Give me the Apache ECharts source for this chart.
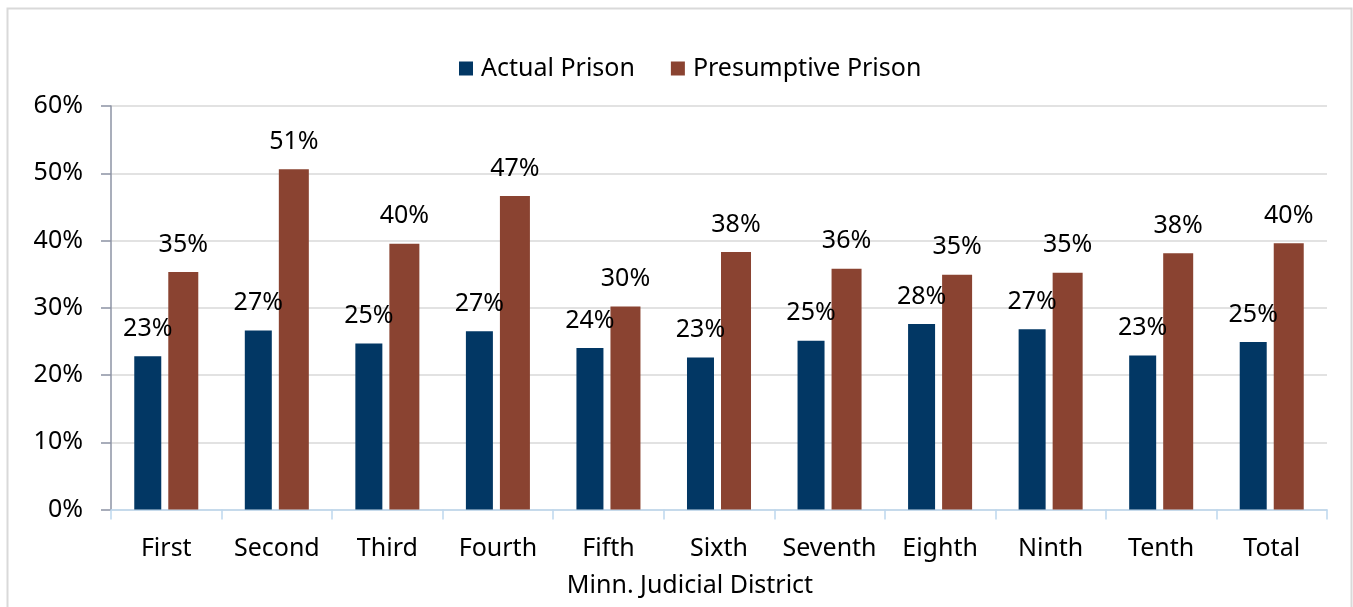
<!DOCTYPE html>
<html>
<head>
<meta charset="utf-8">
<script src="https://cdn.jsdelivr.net/npm/echarts@6/dist/echarts.min.js"></script>
<style>
html,body{margin:0;padding:0;background:#fff;}
#chart{width:1353px;height:607px;}
</style>
</head>
<body>
<div id="chart"></div>
<script>
var categories = ['First','Second','Third','Fourth','Fifth','Sixth','Seventh','Eighth','Ninth','Tenth','Total'];
var actualPrison = [22.8, 26.6, 24.7, 26.5, 24.0, 22.6, 25.1, 27.6, 26.8, 22.9, 24.9];
var presumptivePrison = [35.3, 50.6, 39.5, 46.6, 30.2, 38.3, 35.8, 34.9, 35.2, 38.1, 39.6];
var yTicks = [0, 10, 20, 30, 40, 50, 60];

var FONT = "'Noto Sans', 'Open Sans', sans-serif";
var FS = 25;
var chart = echarts.init(document.getElementById('chart'), null, {renderer: 'canvas'});
var option = {
  backgroundColor: '#ffffff',
  animation: false,
  textStyle: {fontFamily: FONT},
  graphic: [{
    type: 'rect',
    shape: {x: 7.5, y: 8.5, width: 1344, height: 640},
    style: {fill: 'none', stroke: '#D9D9D9', lineWidth: 2},
    silent: true
  }],
  legend: {
    left: 454,
    top: 51,
    itemWidth: 14,
    itemHeight: 14,
    itemGap: 36,
    textStyle: {fontSize: FS, color: '#000', fontFamily: FONT, padding: [0, 0, 0, 3]},
    icon: 'rect',
    data: ['Actual Prison', 'Presumptive Prison']
  },
  grid: {left: 111, right: 26, top: 106, bottom: 97.5, containLabel: false},
  xAxis: {
    type: 'category',
    data: categories,
    name: 'Minn. Judicial District',
    nameLocation: 'middle',
    nameGap: 64,
    nameTextStyle: {fontSize: FS, color: '#000', fontFamily: FONT, padding: [0, 58, 0, 0]},
    axisLine: {show: true, lineStyle: {color: '#BDD7EE', width: 1.5}},
    axisTick: {show: true, length: 10, lineStyle: {color: '#BDD7EE', width: 1.5}},
    axisLabel: {fontSize: FS, color: '#000', margin: 27, fontFamily: FONT, interval: 0}
  },
  yAxis: {
    type: 'value',
    min: yTicks[0],
    max: yTicks[yTicks.length - 1],
    interval: 10,
    axisLine: {show: true, lineStyle: {color: '#8C93A4', width: 1.5}},
    axisTick: {show: true, length: 10, lineStyle: {color: '#8C93A4', width: 1.5}},
    axisLabel: {fontSize: FS, color: '#000', margin: 28, fontFamily: FONT,
      formatter: function (v) { return v + '%'; }},
    splitLine: {show: true, lineStyle: {color: '#D9D9D9', width: 1.5}}
  },
  series: [
    {
      name: 'Actual Prison',
      type: 'bar',
      data: actualPrison,
      barWidth: 27,
      barGap: '26%',
      itemStyle: {color: '#023764'},
      label: {show: true, position: 'top', distance: 15, fontSize: FS, color: '#000', fontFamily: FONT,
        formatter: function (p) { return Math.round(p.value) + '%'; }},
      z: 2
    },
    {
      name: 'Presumptive Prison',
      type: 'bar',
      data: presumptivePrison,
      barWidth: 30,
      itemStyle: {color: '#8A4331'},
      label: {show: true, position: 'top', distance: 15, fontSize: FS, color: '#000', fontFamily: FONT,
        formatter: function (p) { return Math.round(p.value) + '%'; }},
      z: 2
    }
  ]
};
chart.setOption(option);
</script>
</body>
</html>
